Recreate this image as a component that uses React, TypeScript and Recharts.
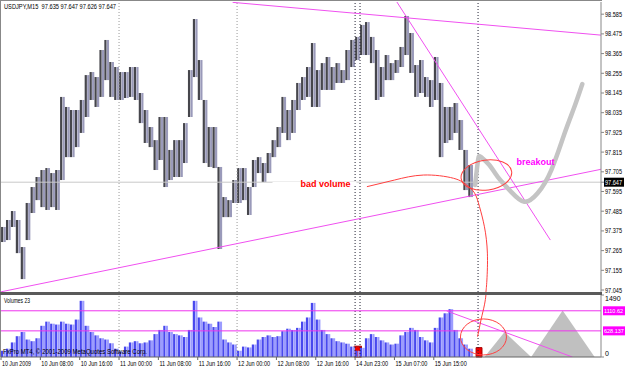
import React from 'react';
import {
  ComposedChart,
  Bar,
  Line,
  Area,
  XAxis,
  YAxis,
  ReferenceLine,
  ReferenceArea,
  ReferenceDot,
} from 'recharts';

const FONT = "'Liberation Sans', Arial, sans-serif";

// USDJPY M15, read per trading hour (hour 0 = 10 Jun 00:00)
const highs = [
  97.397, 97.436, 97.486, 97.436, 97.285, 97.531, 97.620, 97.676, 97.715, 97.726,
  97.698, 97.715, 98.123, 98.067, 98.050, 98.050, 98.106, 98.245, 98.262, 98.234,
  98.385, 98.441, 98.318, 98.290, 98.262, 98.262, 98.290, 98.290, 98.145, 98.050,
  97.955, 97.882, 98.011, 98.011, 97.827, 97.882, 97.882, 97.977, 98.273, 98.558,
  98.329, 98.106, 97.955, 97.955, 97.732, 97.564, 97.547, 97.659, 97.726, 97.726,
  97.620, 97.771, 97.787, 97.754, 97.810, 97.882, 97.955, 98.123, 98.050, 98.106,
  98.201, 98.234, 98.290, 98.424, 98.273, 98.312, 98.346, 98.290, 98.312, 98.273,
  98.385, 98.441, 98.458, 98.525, 98.541, 98.458, 98.385, 98.290, 98.357, 98.312,
  98.329, 98.402, 98.575, 98.480, 98.301, 98.329, 98.234, 98.217, 98.346, 98.201,
  98.067, 98.067, 98.089, 97.994, 97.827, 97.743,
];
const lows = [
  97.313, 97.324, 97.397, 97.251, 97.106, 97.324, 97.475, 97.547, 97.508, 97.492,
  97.508, 97.492, 97.659, 97.787, 97.787, 97.843, 97.922, 98.011, 98.106, 98.067,
  98.123, 98.217, 98.123, 98.106, 98.106, 98.117, 98.123, 98.106, 97.977, 97.866,
  97.843, 97.715, 97.771, 97.620, 97.659, 97.676, 97.676, 97.754, 98.011, 98.234,
  98.106, 97.754, 97.732, 97.726, 97.274, 97.452, 97.452, 97.531, 97.531, 97.547,
  97.464, 97.620, 97.698, 97.648, 97.698, 97.787, 97.843, 97.922, 97.882, 97.922,
  98.050, 98.106, 98.123, 98.067, 98.067, 98.162, 98.162, 98.162, 98.201, 98.201,
  98.217, 98.290, 98.329, 98.357, 98.357, 98.312, 98.106, 98.123, 98.217, 98.217,
  98.257, 98.290, 98.357, 98.257, 98.123, 98.145, 98.123, 98.067, 98.106, 97.787,
  97.866, 97.882, 97.922, 97.827, 97.603, 97.564,
];
const volumes = [
  150, 200, 350, 500, 600, 420, 380, 450, 750, 850,
  800, 780, 850, 800, 780, 900, 1350, 750, 600, 520,
  450, 420, 330, 200, 130, 250, 350, 380, 330, 350,
  400, 550, 650, 750, 600, 550, 520, 480, 650, 1350,
  950, 850, 800, 720, 850, 420, 350, 300, 150, 250,
  230, 300, 420, 480, 520, 480, 500, 620, 680, 650,
  700, 850, 950, 1300, 900, 650, 550, 450, 380, 350,
  320, 250, 150, 220, 450, 550, 480, 400, 350, 300,
  320, 520, 600, 700, 650, 480, 400, 350, 700, 950,
  1050, 1150, 650, 450, 300, 200,
];

const dateTicks = [0, 8, 16, 24, 32, 40, 48, 56, 64, 72, 80, 88];
const dateLabels = [
  '10 Jun 2009', '10 Jun 08:00', '10 Jun 16:00', '11 Jun 00:00', '11 Jun 08:00', '11 Jun 16:00',
  '12 Jun 00:00', '12 Jun 08:00', '12 Jun 16:00', '14 Jun 23:00', '15 Jun 07:00', '15 Jun 15:00',
];
const priceTicks = [
  98.585, 98.475, 98.365, 98.255, 98.145, 98.035, 97.925, 97.815, 97.705,
  97.595, 97.485, 97.375, 97.265, 97.155, 97.045,
];
const lastPrice = 97.647;
const priceDomain = [97.034, 98.653];
const volDomain = [0, 1490];
const volLevels = [1110.62, 628.137];
const lightSeparators = [24, 48];
const darkSeparators = [72, 73, 97];
const redMarks = [[71.8, 73.3, 260], [96.6, 97.8, 225]];

// hand-drawn objects (hour, price) / (hour, volume)
const supportLine = [{ x: 0, y: 97.035 }, { x: 122, y: 97.719 }];
const topLine = [{ x: 47.1, y: 98.651 }, { x: 122, y: 98.468 }];
const steepLine = [{ x: 80.5, y: 98.653 }, { x: 111.7, y: 97.324 }];
const volDownLine = [{ x: 90.6, y: 1108 }, { x: 116.2, y: 0 }];
const forecast = [
  { t: 96.4, p: 97.631 }, { t: 97.0, p: 97.771 }, { t: 97.6, p: 97.788 }, { t: 99.3, p: 97.743 },
  { t: 101.0, p: 97.677 }, { t: 103.7, p: 97.594 }, { t: 106.4, p: 97.538 }, { t: 109.1, p: 97.585 },
  { t: 111.9, p: 97.715 }, { t: 114.6, p: 97.92 }, { t: 116.6, p: 98.068 }, { t: 118.2, p: 98.195 },
];
const redCurve = [
  { t: 74.4, p: 97.622 }, { t: 80.0, p: 97.659 }, { t: 85.9, p: 97.687 }, { t: 92.0, p: 97.669 },
  { t: 94.7, p: 97.631 }, { t: 96.3, p: 97.586 }, { t: 97.3, p: 97.51 }, { t: 98.3, p: 97.398 },
  { t: 98.9, p: 97.251 }, { t: 98.8, p: 97.101 }, { t: 98.6, p: 97.034 },
];
const redCurveVol = [
  { t: 98.6, v: 1490 }, { t: 98.3, v: 1253 }, { t: 97.6, v: 892 }, { t: 96.9, v: 489 },
];
const triangle1 = [{ t: 98.3, v: 0 }, { t: 102.4, v: 600 }, { t: 107.8, v: 0 }];
const triangle2 = [{ t: 107.8, v: 0 }, { t: 114.2, v: 1115 }, { t: 120.7, v: 0 }];

const priceRows = highs.map((h, i) => ({ t: i + 0.5, range: [lows[i], h] }));
const volRows = volumes.map((v, i) => ({ t: i + 0.5, v }));

const PINK = '#f050f0';
const RED = '#ff4040';

// one hour = a dark and a light stripe, like the packed M15 bars
const stripes = (dark: string, light: string) => (p: any) => {
  const cx = p.x + p.width / 2;
  const top = Math.min(p.y, p.y + p.height);
  const h = Math.max(1, Math.abs(p.height));
  return (
    <g>
      <rect x={cx - 2.4} y={top} width={2.2} height={h} fill={dark} />
      <rect x={cx + 0.1} y={top} width={2.2} height={h} fill={light} />
    </g>
  );
};

const PriceTick = (props: any) => {
  const { x, y, payload } = props;
  const v = payload.value;
  if (v === lastPrice) {
    return (
      <g>
        <rect x={x - 1} y={y - 4.5} width={20} height={9} fill="#000" />
        <text x={x} y={y} dy={2.5} fill="#fff" fontSize={7} fontFamily={FONT} textLength={17} lengthAdjust="spacingAndGlyphs">{v.toFixed(3)}</text>
      </g>
    );
  }
  return (
    <text x={x} y={y} dy={2.5} fontSize={7} fill="#000" fontFamily={FONT} textLength={17} lengthAdjust="spacingAndGlyphs">{v.toFixed(3)}</text>
  );
};

const VolTick = (props: any) => {
  const { x, y, payload } = props;
  return (
    <text x={x} y={y} dy={payload.value === 0 ? -1 : 6} fontSize={7} fill="#000" fontFamily={FONT}>
      {payload.value}
    </text>
  );
};

const DateTick = (props: any) => {
  const { x, y, payload } = props;
  const label = dateLabels[dateTicks.indexOf(payload.value)];
  return (
    <text x={x + 1} y={y} dy={5} fontSize={7} fill="#000" fontFamily={FONT} textLength={label.length === 11 ? 29 : 32} lengthAdjust="spacingAndGlyphs">{label}</text>
  );
};

export default function App() {
  return (
    <div style={{ position: 'absolute', left: 0, top: 0, width: 625, height: 368, background: '#fff', overflow: 'hidden', fontFamily: FONT }}>
      {/* price window */}
      <div style={{ position: 'absolute', left: 0, top: 0 }}>
        <ComposedChart width={625} height={293} data={priceRows} margin={{ top: 2, right: 0, bottom: 1, left: 1 }}>
          <XAxis dataKey="t" type="number" domain={[0, 122]} hide allowDataOverflow />
          <YAxis
            orientation="right"
            width={24}
            domain={priceDomain}
            ticks={[...priceTicks, lastPrice]}
            interval={0}
            allowDataOverflow
            tick={<PriceTick />}
            tickSize={3}
            tickMargin={1}
            axisLine={{ stroke: '#888' }}
            tickLine={{ stroke: '#888' }}
          />
          <ReferenceLine y={lastPrice} stroke="#c8c8c8" />
          {lightSeparators.map((s) => (
            <ReferenceLine key={s} x={s} stroke="#999" strokeDasharray="1 2" />
          ))}
          {darkSeparators.map((s) => (
            <ReferenceLine key={s} x={s} stroke="#223" strokeDasharray="1 2" />
          ))}
          <Bar dataKey="range" isAnimationActive={false} shape={stripes('#46464c', '#9a9aba')} />
          <ReferenceLine segment={supportLine} stroke={PINK} ifOverflow="hidden" />
          <ReferenceLine segment={topLine} stroke={PINK} ifOverflow="hidden" />
          <ReferenceLine segment={steepLine} stroke={PINK} ifOverflow="hidden" />
          <Line data={forecast} dataKey="p" type="natural" stroke="#c4c4c4" strokeWidth={4.5} strokeLinecap="round" dot={false} isAnimationActive={false} />
          <Line data={redCurve} dataKey="p" type="natural" stroke={RED} strokeWidth={1} dot={false} isAnimationActive={false} />
          <ReferenceDot
            x={98.7}
            y={97.687}
            shape={(p: any) => (
              <ellipse cx={p.cx} cy={p.cy} rx={25.5} ry={15} fill="none" stroke={RED} transform={`rotate(-8 ${p.cx} ${p.cy})`} />
            )}
          />
          <ReferenceDot
            x={60.9}
            y={97.637}
            shape={(p: any) => (
              <g>
                <rect x={p.cx - 28} y={p.cy - 2} width={84} height={4} fill="#fff" />
                <text x={p.cx} y={p.cy} dy={3} fill="#ff0000" fontSize={9} fontWeight="bold" fontFamily={FONT}>bad volume</text>
              </g>
            )}
          />
          <ReferenceDot
            x={104.8}
            y={97.76}
            shape={(p: any) => (
              <text x={p.cx} y={p.cy} dy={3} fill="#ff00ff" fontSize={9} fontWeight="bold" fontFamily={FONT}>breakout</text>
            )}
          />
        </ComposedChart>
      </div>

      {/* volume window */}
      <div style={{ position: 'absolute', left: 0, top: 293 }}>
        <ComposedChart width={625} height={75} data={volRows} margin={{ top: 2, right: 0, bottom: 0, left: 1 }}>
          <XAxis
            dataKey="t"
            type="number"
            domain={[0, 122]}
            ticks={dateTicks}
            interval={0}
            allowDataOverflow
            height={11}
            tick={<DateTick />}
            tickSize={3}
            tickMargin={1}
            axisLine={{ stroke: '#666' }}
            tickLine={{ stroke: '#666' }}
          />
          <YAxis
            orientation="right"
            width={24}
            domain={volDomain}
            ticks={volDomain}
            interval={0}
            allowDataOverflow
            tick={<VolTick />}
            tickSize={3}
            tickMargin={1}
            axisLine={{ stroke: '#888' }}
            tickLine={{ stroke: '#888' }}
          />
          {lightSeparators.map((s) => (
            <ReferenceLine key={s} x={s} stroke="#999" strokeDasharray="1 2" />
          ))}
          {darkSeparators.map((s) => (
            <ReferenceLine key={s} x={s} stroke="#223" strokeDasharray="1 2" />
          ))}
          <Bar dataKey="v" isAnimationActive={false} shape={stripes('#4848ee', '#9c9cff')} />
          {redMarks.map(([a, b, h]) => (
            <ReferenceArea key={a} x1={a} x2={b} y1={0} y2={h} fill="#ee0000" fillOpacity={1} stroke="#aa0000" />
          ))}
          <Area data={triangle1} dataKey="v" type="linear" fill="#c0c0c0" fillOpacity={1} stroke="none" isAnimationActive={false} />
          <Area data={triangle2} dataKey="v" type="linear" fill="#c0c0c0" fillOpacity={1} stroke="none" isAnimationActive={false} />
          {volLevels.map((l) => (
            <ReferenceLine key={l} y={l} stroke="#ee33ee" />
          ))}
          <ReferenceLine segment={volDownLine} stroke={PINK} ifOverflow="hidden" />
          <Line data={redCurveVol} dataKey="v" type="natural" stroke={RED} strokeWidth={1} dot={false} isAnimationActive={false} />
          <ReferenceDot
            x={98.1}
            y={482}
            shape={(p: any) => (
              <ellipse cx={p.cx} cy={p.cy} rx={23} ry={18} fill="none" stroke={RED} />
            )}
          />
          {volLevels.map((l) => (
            <ReferenceDot
              key={l}
              x={122}
              y={l}
              shape={(p: any) => (
                <g>
                  <rect x={p.cx + 2} y={p.cy - 4.5} width={22} height={9} fill="#ff00ff" />
                  <text x={p.cx + 3} y={p.cy} dy={2} fill="#fff" fontSize={5.5} fontFamily={FONT}>{l}</text>
                </g>
              )}
            />
          ))}
        </ComposedChart>
      </div>

      {/* window frame */}
      <div style={{ position: 'absolute', left: 0, top: 0, width: 1, height: 357, background: '#888' }} />
      <div style={{ position: 'absolute', left: 0, top: 0, width: 602, height: 1, background: '#888' }} />
      <div style={{ position: 'absolute', left: 0, top: 292, width: 602, height: 3, background: '#5a5a5a' }} />

      <svg style={{ position: 'absolute', left: 0, top: 0 }} width={625} height={368}>
        <text x={4} y={9} fontSize={7} fontFamily={FONT} fill="#000" textLength={112} lengthAdjust="spacingAndGlyphs" xmlSpace="preserve">USDJPY,M15  97.635 97.647 97.626 97.647</text>
        <text x={4} y={303} fontSize={7} fontFamily={FONT} fill="#000" textLength={26} lengthAdjust="spacingAndGlyphs">Volumes 23</text>
        <text x={3} y={354} fontSize={7} fontFamily={FONT} fill="#000" textLength={144} lengthAdjust="spacingAndGlyphs">FxPro MT4, © 2001-2009 MetaQuotes Software Corp.</text>
      </svg>
    </div>
  );
}
